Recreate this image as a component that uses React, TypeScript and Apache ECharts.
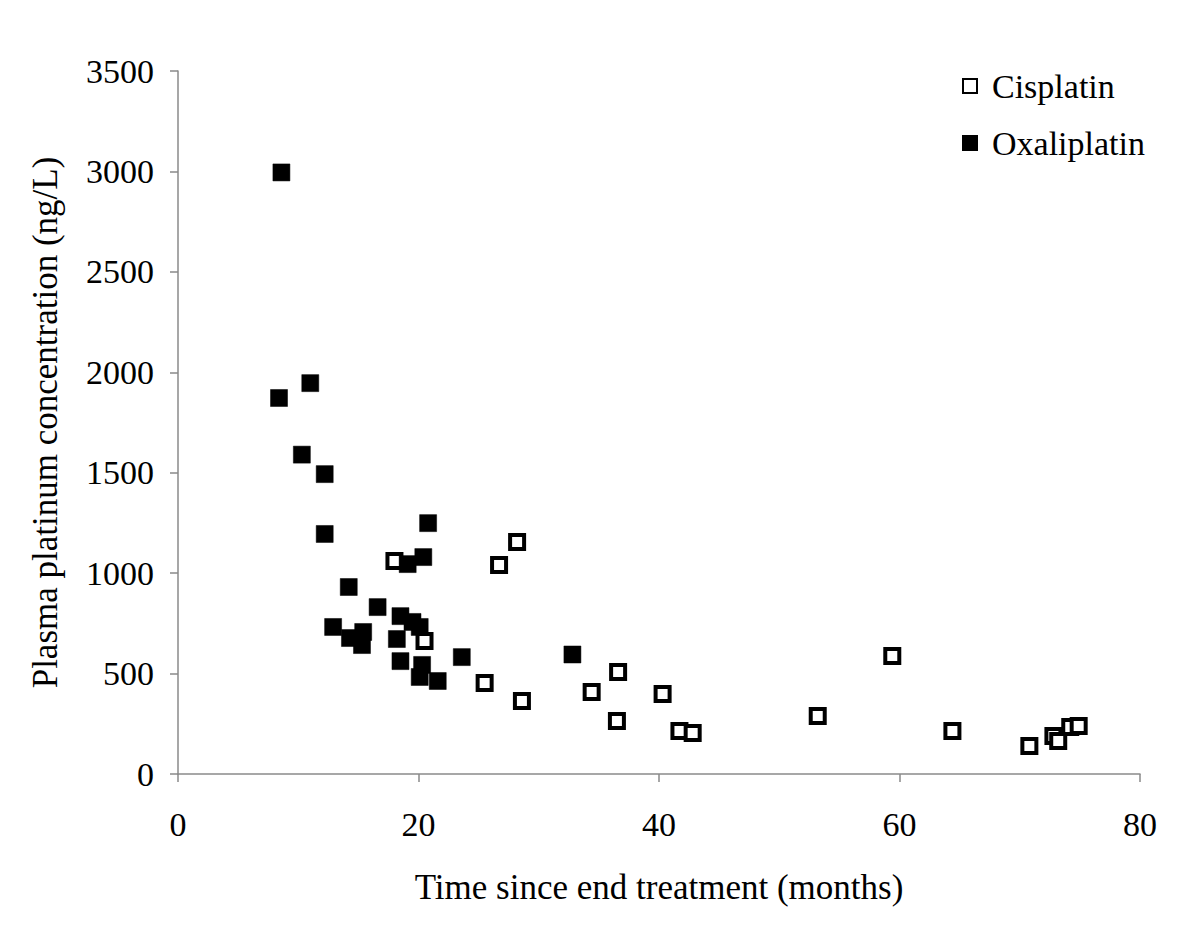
import React, { useEffect, useRef } from "react";
import * as echarts from "echarts";

const xTicks = [0, 20, 40, 60, 80];
const yTicks = [0, 500, 1000, 1500, 2000, 2500, 3000, 3500];

const cisplatinX = [18.0, 20.5, 26.7, 28.2, 25.5, 28.6, 34.4, 36.6, 36.5, 40.3, 41.7, 42.8, 53.2, 59.4, 64.4, 70.8, 72.8, 73.2, 74.2, 74.9];
const cisplatinY = [1060, 662, 1040, 1155, 453, 363, 408, 508, 264, 398, 214, 204, 289, 587, 214, 139, 189, 164, 234, 239];

const oxaliplatinX = [8.6, 8.4, 11.0, 10.3, 12.2, 12.2, 20.8, 20.4, 19.1, 14.2, 16.6, 12.9, 14.3, 15.4, 15.3, 18.5, 19.5, 20.1, 18.2, 18.5, 20.3, 20.1, 21.6, 23.6, 32.8];
const oxaliplatinY = [2995, 1872, 1946, 1590, 1493, 1195, 1249, 1080, 1045, 931, 831, 732, 677, 707, 642, 786, 757, 732, 672, 562, 543, 483, 463, 582, 595];

const FONT = "'Liberation Serif', 'Times New Roman', serif";
const AXIS_GRAY = "#8a8a8a";

export default function App() {
  const ref = useRef<HTMLDivElement>(null);
  useEffect(() => {
    if (!ref.current) return;
    const chart = echarts.init(ref.current, null, { renderer: "svg" });
    const cis = cisplatinX.map((x, i) => [x, cisplatinY[i]]);
    const oxa = oxaliplatinX.map((x, i) => [x, oxaliplatinY[i]]);
    chart.setOption({
      animation: false,
      backgroundColor: "#ffffff",
      textStyle: { fontFamily: FONT },
      grid: { left: 178, right: 60, top: 71, bottom: 171 },
      legend: {
        orient: "vertical",
        left: 957,
        top: 64,
        itemWidth: 14,
        itemHeight: 14,
        itemGap: 23,
        textStyle: { fontFamily: FONT, fontSize: 34, color: "#000", lineHeight: 34, padding: [0, 0, 0, 10] },
        data: ["Cisplatin", "Oxaliplatin"],
      },
      xAxis: {
        type: "value",
        min: xTicks[0],
        max: xTicks[xTicks.length - 1],
        interval: 20,
        name: "Time since end treatment (months)",
        nameLocation: "middle",
        nameGap: 96,
        nameTextStyle: { fontFamily: FONT, fontSize: 35, color: "#000" },
        splitLine: { show: false },
        axisLine: { lineStyle: { color: AXIS_GRAY, width: 1.5 } },
        axisTick: { show: true, length: 8, lineStyle: { color: AXIS_GRAY, width: 1.5 } },
        axisLabel: { fontFamily: FONT, fontSize: 34, color: "#000", margin: 33, formatter: (v: number) => String(v) },
      },
      yAxis: {
        type: "value",
        min: yTicks[0],
        max: yTicks[yTicks.length - 1],
        interval: 500,
        name: "Plasma platinum concentration (ng/L)",
        nameLocation: "middle",
        nameGap: 115,
        nameTextStyle: { fontFamily: FONT, fontSize: 35, color: "#000" },
        splitLine: { show: false },
        axisLine: { show: true, lineStyle: { color: AXIS_GRAY, width: 1.5 } },
        axisTick: { show: true, length: 8, lineStyle: { color: AXIS_GRAY, width: 1.5 } },
        axisLabel: { fontFamily: FONT, fontSize: 34, color: "#000", margin: 24, formatter: (v: number) => String(v) },
      },
      series: [
        {
          name: "Cisplatin",
          type: "scatter",
          symbol: "rect",
          symbolSize: 14,
          data: cis,
          itemStyle: { color: "#ffffff", borderColor: "#000", borderWidth: 4, opacity: 1 },
          z: 2,
        },
        {
          name: "Oxaliplatin",
          type: "scatter",
          symbol: "rect",
          symbolSize: 17,
          data: oxa,
          itemStyle: { color: "#000", borderColor: "#000", borderWidth: 0.5, opacity: 1 },
          z: 3,
        },
      ],
    });
    return () => chart.dispose();
  }, []);
  return (
    <div
      ref={ref}
      style={{ position: "fixed", left: 0, top: 0, width: 1200, height: 945, background: "#fff" }}
    />
  );
}
